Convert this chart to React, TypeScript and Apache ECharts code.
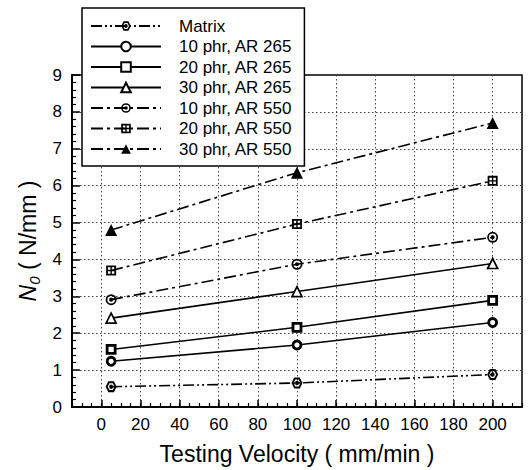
import React, { useEffect, useRef } from 'react';
import * as echarts from 'echarts';

const velocities = [5, 100, 200];
const seriesNames = [
  'Matrix',
  '10 phr, AR 265',
  '20 phr, AR 265',
  '30 phr, AR 265',
  '10 phr, AR 550',
  '20 phr, AR 550',
  '30 phr, AR 550',
];
const matrix = [0.55, 0.65, 0.88];
const phr10AR265 = [1.24, 1.68, 2.29];
const phr20AR265 = [1.56, 2.16, 2.89];
const phr30AR265 = [2.41, 3.13, 3.89];
const phr10AR550 = [2.91, 3.87, 4.6];
const phr20AR550 = [3.7, 4.96, 6.13];
const phr30AR550 = [4.8, 6.35, 7.7];
const xTickLabels = [0, 20, 40, 60, 80, 100, 120, 140, 160, 180, 200];

const FONT = 'Liberation Sans, Arial, Helvetica, sans-serif';

const HEX_DOT =
  'path://M20,10 L15,18.66 L5,18.66 L0,10 L5,1.34 L15,1.34 Z M16.2,10 L13.1,4.63 L6.9,4.63 L3.8,10 L6.9,15.37 L13.1,15.37 Z M6.4,10 A3.6,3.6 0 1,1 13.6,10 A3.6,3.6 0 1,1 6.4,10 Z';
const BULLSEYE =
  'path://M0,10 A10,10 0 1,1 20,10 A10,10 0 1,1 0,10 Z M3.2,10 A6.8,6.8 0 1,0 16.8,10 A6.8,6.8 0 1,0 3.2,10 Z M6.2,10 A3.8,3.8 0 1,1 13.8,10 A3.8,3.8 0 1,1 6.2,10 Z';
const CROSS_SQ =
  'path://M0,0 L20,0 L20,20 L0,20 Z M3.6,3.6 L3.6,8.6 L8.6,8.6 L8.6,3.6 Z M11.4,3.6 L11.4,8.6 L16.4,8.6 L16.4,3.6 Z M3.6,11.4 L3.6,16.4 L8.6,16.4 L8.6,11.4 Z M11.4,11.4 L11.4,16.4 L16.4,16.4 L16.4,11.4 Z';

const DASH_DOT_DOT = [11, 3, 2, 3, 2, 3];
const DASH_DOT = [12, 4, 3, 4];

export default function App() {
  const ref = useRef<HTMLDivElement>(null);
  useEffect(() => {
    if (!ref.current) return;
    const chart = echarts.init(ref.current, undefined, { renderer: 'svg' });
    const values = [matrix, phr10AR265, phr20AR265, phr30AR265, phr10AR550, phr20AR550, phr30AR550];
    const styles: any[] = [
      { symbol: HEX_DOT, size: 11, dash: DASH_DOT_DOT, item: { color: '#000' } },
      { symbol: 'circle', size: 8, dash: 'solid', item: { color: '#fff', borderColor: '#000', borderWidth: 2.8 } },
      { symbol: 'rect', size: 8, dash: 'solid', item: { color: '#fff', borderColor: '#000', borderWidth: 2.8 } },
      { symbol: 'triangle', size: 10, dash: 'solid', item: { color: '#fff', borderColor: '#000', borderWidth: 1.7 } },
      { symbol: BULLSEYE, size: 11, dash: DASH_DOT, item: { color: '#000' } },
      { symbol: CROSS_SQ, size: 10, dash: DASH_DOT, item: { color: '#000' } },
      { symbol: 'triangle', size: 12, dash: DASH_DOT, item: { color: '#000' } },
    ];
    const series = seriesNames.map((name, k) => ({
      name,
      type: 'line',
      xAxisIndex: 0,
      yAxisIndex: 0,
      data: velocities.map((v, i) => [v, values[k][i]]),
      symbol: styles[k].symbol,
      symbolSize: styles[k].size,
      showAllSymbol: true,
      lineStyle: { color: '#000', width: 1.6, type: styles[k].dash },
      itemStyle: styles[k].item,
      emphasis: { disabled: true },
      z: 3,
    }));
    const splitStyle = { type: [1.5, 2.5], color: '#444', width: 1 };
    chart.setOption({
      animation: false,
      textStyle: { fontFamily: FONT, color: '#000' },
      grid: {
        left: 72,
        top: 75,
        right: 6,
        bottom: 62,
        show: true,
        borderColor: '#000',
        borderWidth: 1.5,
        backgroundColor: 'transparent',
      },
      legend: {
        left: 82,
        top: 8,
        orient: 'vertical',
        itemWidth: 70,
        itemHeight: 12,
        itemGap: 3.5,
        padding: [9.5, 12, 8.5, 8],
        backgroundColor: '#fff',
        borderColor: '#000',
        borderWidth: 1.5,
        selectedMode: false,
        textStyle: { fontSize: 17, color: '#000', fontFamily: FONT, padding: [0, 0, 0, 13] },
        data: seriesNames,
        z: 10,
      },
      xAxis: [
        {
          type: 'value',
          min: -15,
          max: 215,
          interval: 5,
          position: 'bottom',
          axisLine: { show: true, onZero: false, lineStyle: { color: '#000', width: 2 } },
          axisTick: { show: true, inside: true, length: 7, customValues: xTickLabels, lineStyle: { color: '#000', width: 1.5 } },
          axisLabel: { customValues: xTickLabels, margin: 9, fontSize: 17, color: '#000', fontFamily: FONT },
          splitLine: { show: true, lineStyle: splitStyle },
          name: 'Testing Velocity ( mm/min )',
          nameLocation: 'middle',
          nameGap: 35,
          nameTextStyle: { fontSize: 23, color: '#000', fontFamily: FONT },
        },
        {
          type: 'value',
          min: -15,
          max: 215,
          interval: 5,
          position: 'bottom',
          axisLine: { show: false, onZero: false },
          axisTick: { show: true, inside: true, length: 4, lineStyle: { color: '#000', width: 1.2 } },
          axisLabel: { show: false },
          splitLine: { show: false },
        },
      ],
      yAxis: {
        type: 'value',
        min: 0,
        max: 9,
        interval: 1,
        axisLine: { show: true, onZero: false, lineStyle: { color: '#000', width: 2 } },
        axisTick: { show: true, inside: true, length: 8, lineStyle: { color: '#000', width: 1.5 } },
        minorTick: { show: true, splitNumber: 5, length: 4, lineStyle: { color: '#000', width: 1.2 } },
        axisLabel: { margin: 10, fontSize: 17, color: '#000', fontFamily: FONT },
        splitLine: { show: true, lineStyle: splitStyle },
        name: '{i|N}{s|0}{t| ( N/mm )}',
        nameLocation: 'middle',
        nameGap: 32,
        nameTextStyle: {
          fontSize: 23,
          color: '#000',
          fontFamily: FONT,
          rich: {
            i: { fontSize: 23, fontStyle: 'italic', fontFamily: FONT, color: '#000', verticalAlign: 'top', lineHeight: 23 },
            s: { fontSize: 15, fontStyle: 'italic', fontFamily: FONT, color: '#000', padding: [10, 0, 0, 0], verticalAlign: 'top', lineHeight: 15 },
            t: { fontSize: 23, fontFamily: FONT, color: '#000', verticalAlign: 'top', lineHeight: 23 },
          },
        },
      },
      series,
    });
    return () => chart.dispose();
  }, []);
  return <div ref={ref} style={{ position: 'absolute', left: 0, top: 0, width: 528, height: 470 }} />;
}
